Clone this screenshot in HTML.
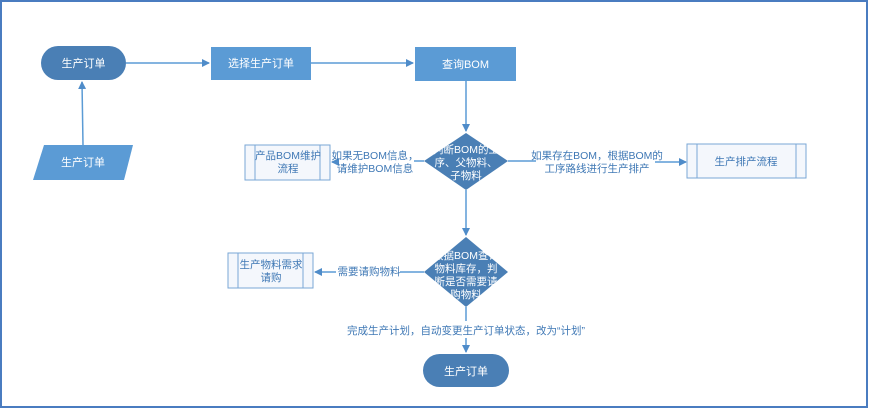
<!DOCTYPE html>
<html><head><meta charset="utf-8"><style>
html,body{margin:0;padding:0;background:#fff;}
svg{display:block;font-family:"Liberation Sans","Noto Sans CJK SC",sans-serif;}
</style></head><body>
<svg width="869" height="409" viewBox="0 0 869 409" xmlns="http://www.w3.org/2000/svg">
<defs>
<marker id="a" markerWidth="8" markerHeight="8" refX="7" refY="4" orient="auto" markerUnits="userSpaceOnUse"><path d="M0,0 L8,4 L0,8 z" fill="#4f8cc9"/></marker>
</defs>
<rect x="1" y="1" width="866" height="406" fill="#fff" stroke="#4a7cc0" stroke-width="2"/>
<g stroke="#5b9bd5" stroke-width="1.5" fill="none">
<line x1="126" y1="63" x2="209" y2="63" marker-end="url(#a)"/>
<line x1="311" y1="63" x2="413" y2="63" marker-end="url(#a)"/>
<line x1="83" y1="145" x2="82" y2="82" marker-end="url(#a)"/>
<line x1="466" y1="81" x2="466" y2="131" marker-end="url(#a)"/>
<line x1="424" y1="161" x2="414" y2="161"/>
<line x1="336" y1="162" x2="332" y2="162" marker-end="url(#a)"/>
<line x1="508" y1="161" x2="536" y2="161"/>
<line x1="655" y1="162" x2="686" y2="162" marker-end="url(#a)"/>
<line x1="466" y1="190" x2="466" y2="235" marker-end="url(#a)"/>
<line x1="424" y1="272" x2="400" y2="272"/>
<line x1="336" y1="272" x2="315" y2="272" marker-end="url(#a)"/>
<line x1="466" y1="307" x2="466" y2="321"/>
<line x1="466" y1="338" x2="466" y2="352" marker-end="url(#a)"/>
</g>
<rect x="41" y="46" width="85" height="34" rx="17" fill="#4a7fb5"/>
<text x="83.5" y="67" fill="#fff" font-size="11" text-anchor="middle">生产订单</text>
<rect x="211" y="47" width="100" height="33" fill="#5b9bd5"/>
<text x="261" y="67" fill="#fff" font-size="11" text-anchor="middle">选择生产订单</text>
<rect x="415" y="47" width="101" height="34" fill="#5b9bd5"/>
<text x="465.5" y="68" fill="#fff" font-size="11" text-anchor="middle">查询BOM</text>
<polygon points="44,145 133,145 124,180 33,180" fill="#5b9bd5"/>
<text x="83" y="166" fill="#fff" font-size="11" text-anchor="middle">生产订单</text>
<polygon points="466,133 508,161 466,190 424,161" fill="#4a7fb5"/>
<text fill="#fff" font-size="10.5" text-anchor="middle"><tspan x="466" y="153">判断BOM的工</tspan><tspan x="466" y="166">序、父物料、</tspan><tspan x="466" y="179">子物料</tspan></text>
<polygon points="466,237 508,272 466,307 424,272" fill="#4a7fb5"/>
<text fill="#fff" font-size="10.5" text-anchor="middle"><tspan x="466" y="259">根据BOM查询</tspan><tspan x="466" y="272">物料库存，判</tspan><tspan x="466" y="285">断是否需要请</tspan><tspan x="466" y="298">购物料</tspan></text>
<g fill="#f4f7fc" stroke="#7aa7d6" stroke-width="1">
<rect x="245" y="145" width="85" height="35"/><line x1="255" y1="145" x2="255" y2="180"/><line x1="320" y1="145" x2="320" y2="180"/>
<rect x="687" y="144" width="119" height="34"/><line x1="697" y1="144" x2="697" y2="178"/><line x1="796" y1="144" x2="796" y2="178"/>
<rect x="228" y="253" width="85" height="35"/><line x1="238" y1="253" x2="238" y2="288"/><line x1="303" y1="253" x2="303" y2="288"/>
</g>
<g fill="#3f78b5" font-size="10.5" text-anchor="middle">
<text><tspan x="288" y="159">产品BOM维护</tspan><tspan x="288" y="172">流程</tspan></text>
<text x="746" y="165">生产排产流程</text>
<text><tspan x="271" y="268">生产物料需求</tspan><tspan x="271" y="281">请购</tspan></text>
<text><tspan x="375" y="159">如果无BOM信息，</tspan><tspan x="375" y="172">请维护BOM信息</tspan></text>
<text><tspan x="597" y="159">如果存在BOM，根据BOM的</tspan><tspan x="597" y="172">工序路线进行生产排产</tspan></text>
<text x="369" y="275">需要请购物料</text>
<text x="466" y="334">完成生产计划，自动变更生产订单状态，改为“计划”</text>
</g>
<rect x="423" y="354" width="86" height="33" rx="16.5" fill="#4a7fb5"/>
<text x="466" y="375" fill="#fff" font-size="11" text-anchor="middle">生产订单</text>
</svg>
</body></html>
